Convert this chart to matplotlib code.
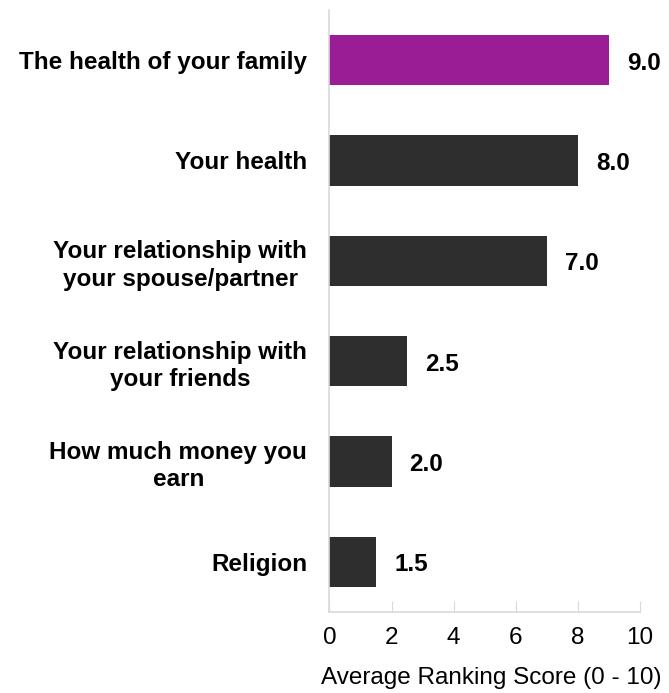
import matplotlib
matplotlib.use("Agg")
import matplotlib.pyplot as plt

categories = [
    "The health of your family",
    "Your health",
    "Your relationship with\nyour spouse/partner",
    "Your relationship with\nyour friends",
    "How much money you\nearn",
    "Religion",
]
scores = [9.0, 8.0, 7.0, 2.5, 2.0, 1.5]
bar_colors = ["#9b1d95", "#2e2e2e", "#2e2e2e", "#2e2e2e", "#2e2e2e", "#2e2e2e"]
xticks = [0, 2, 4, 6, 8, 10]

plt.rcParams["font.family"] = ["Liberation Sans", "DejaVu Sans"]

fig = plt.figure(figsize=(6.69, 6.93), dpi=100)
ax = fig.add_axes([0.4925, 0.1169, 0.4642, 0.8687])

ypos = list(range(len(categories)))
ax.barh(ypos, scores, height=0.5, color=bar_colors)
for y, v in zip(ypos, scores):
    ax.text(v + 0.58, y + 0.03, f"{v:.1f}", va="center", ha="left",
            fontsize=17.5, fontweight="bold", color="black")

ax.set_ylim(5.5, -0.5)
ax.set_xlim(0, 10)
ax.set_yticks(ypos)
ax.set_yticklabels(categories, fontsize=17.5, fontweight="bold", ha="right",
                   multialignment="center", linespacing=1.25)
ax.tick_params(axis="y", length=0, pad=16)
ax.set_xticks(xticks)
ax.tick_params(axis="x", direction="in", length=8, color="#d9d9d9",
               labelsize=17.5, pad=11)
ax.set_xlabel("Average Ranking Score (0 - 10)", fontsize=17.5)
ax.xaxis.set_label_coords(0.52, -0.11)
ax.xaxis.label.set_va("center")

for s in ["top", "right"]:
    ax.spines[s].set_visible(False)
for s in ["left", "bottom"]:
    ax.spines[s].set_color("#d9d9d9")
    ax.spines[s].set_linewidth(1.2)

fig.savefig("out.png", dpi=100)
